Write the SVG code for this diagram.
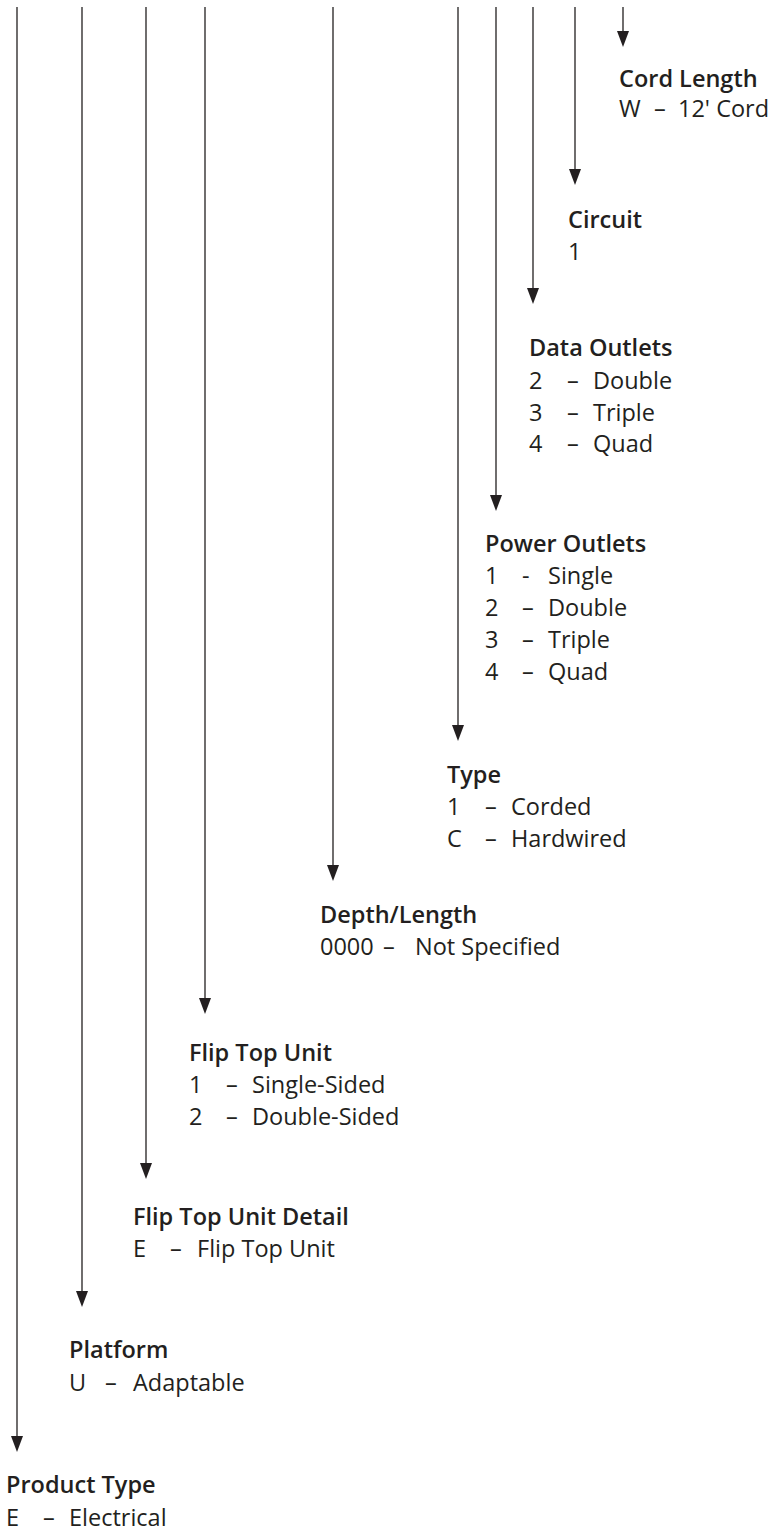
<svg xmlns="http://www.w3.org/2000/svg" width="775" height="1532" viewBox="0 0 775 1532">
<style>
text{font-family:"Open Sans","Noto Sans","Liberation Sans",sans-serif;fill:#231f20;font-size:23.5px}
.t{font-weight:600}
.c{stroke:#231f20;stroke-width:1.3;fill:none}
</style>
<defs>
<marker id="ah" viewBox="0 0 16 12" refX="2" refY="6" markerWidth="16" markerHeight="12" markerUnits="userSpaceOnUse" orient="auto">
<path d="M0,0 L16,6 L0,12 z" fill="#231f20"/>
</marker>
</defs>
<rect width="775" height="1532" fill="#fff"/>
<g id="connectors">
<line class="c" x1="17" y1="7" x2="17" y2="1438" marker-end="url(#ah)"/>
<line class="c" x1="82" y1="7" x2="82" y2="1293" marker-end="url(#ah)"/>
<line class="c" x1="146" y1="7" x2="146" y2="1165" marker-end="url(#ah)"/>
<line class="c" x1="205" y1="7" x2="205" y2="1000" marker-end="url(#ah)"/>
<line class="c" x1="333" y1="7" x2="333" y2="867" marker-end="url(#ah)"/>
<line class="c" x1="458" y1="7" x2="458" y2="727" marker-end="url(#ah)"/>
<line class="c" x1="496" y1="7" x2="496" y2="497" marker-end="url(#ah)"/>
<line class="c" x1="533" y1="7" x2="533" y2="290" marker-end="url(#ah)"/>
<line class="c" x1="575" y1="7" x2="575" y2="171" marker-end="url(#ah)"/>
<line class="c" x1="623" y1="7" x2="623" y2="33" marker-end="url(#ah)"/>
</g>
<g id="cord-length">
<text class="t" x="619" y="87">Cord Length</text>
<text y="117"><tspan x="619">W </tspan><tspan x="654">– </tspan><tspan x="678">12' Cord</tspan></text>
</g>
<g id="circuit">
<text class="t" x="568" y="228">Circuit</text>
<text x="568" y="260">1</text>
</g>
<g id="data-outlets">
<text class="t" x="529" y="356">Data Outlets</text>
<text y="389"><tspan x="529">2 </tspan><tspan x="567">– </tspan><tspan x="593">Double</tspan></text>
<text y="421"><tspan x="529">3 </tspan><tspan x="567">– </tspan><tspan x="593">Triple</tspan></text>
<text y="452"><tspan x="529">4 </tspan><tspan x="567">– </tspan><tspan x="593">Quad</tspan></text>
</g>
<g id="power-outlets">
<text class="t" x="485" y="552">Power Outlets</text>
<text y="584"><tspan x="485">1 </tspan><tspan x="522">- </tspan><tspan x="548">Single</tspan></text>
<text y="616"><tspan x="485">2 </tspan><tspan x="522">– </tspan><tspan x="548">Double</tspan></text>
<text y="648"><tspan x="485">3 </tspan><tspan x="522">– </tspan><tspan x="548">Triple</tspan></text>
<text y="680"><tspan x="485">4 </tspan><tspan x="522">– </tspan><tspan x="548">Quad</tspan></text>
</g>
<g id="type">
<text class="t" x="447" y="783">Type</text>
<text y="815"><tspan x="447">1 </tspan><tspan x="485">– </tspan><tspan x="511">Corded</tspan></text>
<text y="847"><tspan x="447">C </tspan><tspan x="485">– </tspan><tspan x="511">Hardwired</tspan></text>
</g>
<g id="depth-length">
<text class="t" x="320" y="923">Depth/Length</text>
<text y="955"><tspan x="320">0000 </tspan><tspan x="383">– </tspan><tspan x="415">Not Specified</tspan></text>
</g>
<g id="flip-top-unit">
<text class="t" x="189" y="1061">Flip Top Unit</text>
<text y="1093"><tspan x="189">1 </tspan><tspan x="226">– </tspan><tspan x="252">Single-Sided</tspan></text>
<text y="1125"><tspan x="189">2 </tspan><tspan x="226">– </tspan><tspan x="252">Double-Sided</tspan></text>
</g>
<g id="flip-top-unit-detail">
<text class="t" x="133" y="1225">Flip Top Unit Detail</text>
<text y="1257"><tspan x="133">E </tspan><tspan x="170">– </tspan><tspan x="197">Flip Top Unit</tspan></text>
</g>
<g id="platform">
<text class="t" x="69" y="1358">Platform</text>
<text y="1391"><tspan x="69">U </tspan><tspan x="105">– </tspan><tspan x="133">Adaptable</tspan></text>
</g>
<g id="product-type">
<text class="t" x="6" y="1493">Product Type</text>
<text y="1526"><tspan x="6">E </tspan><tspan x="43">– </tspan><tspan x="69">Electrical</tspan></text>
</g>
</svg>
